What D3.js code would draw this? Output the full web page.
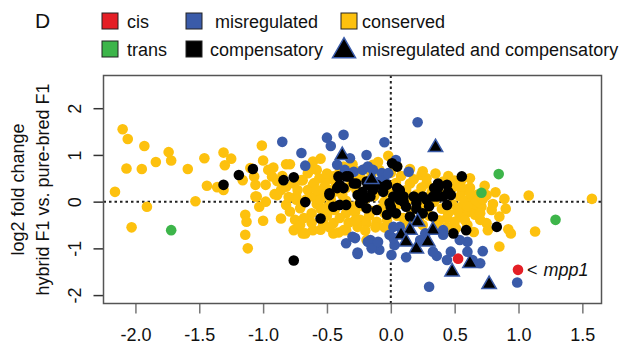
<!DOCTYPE html>
<html>
<head>
<meta charset="utf-8">
<script src="https://cdn.jsdelivr.net/npm/d3@7"></script>
<style>
    body { margin: 0; background: #fff; }
    text { font-family: "Liberation Sans", Arial, sans-serif; }
</style>
</head>
<body>
<script>

let width = 629;
let height = 350;

// log2 fold change: x = hybrid vs parent (cis/trans axis), y = hybrid F1 vs pure-bred F1
let conserved = [
    [-2.10, 1.55], [-2.06, 1.34], [-1.93, 1.19], [-1.74, 1.06], [-1.72, 0.88], [-1.84, 0.85],
    [-2.07, 0.71], [-1.95, 0.70], [-1.59, 0.70], [-1.46, 0.93], [-1.31, 1.05], [-1.25, 0.92],
    [-1.30, 0.78], [-1.01, 1.20], [-1.00, 0.88], [-2.16, 0.21], [-1.44, 0.34], [-1.36, 0.31],
    [-1.31, 0.25], [-1.53, 0.01], [-1.91, -0.11], [-2.03, -0.55],
    [-1.16, 0.46], [-1.10, 0.72], [-1.07, 0.54], [-1.06, 0.36], [-0.96, 0.68], [-0.92, 0.73],
    [-0.93, 0.54], [-0.82, 0.80], [-0.79, 0.80], [-0.98, 0.36], [-0.89, 0.44], [-0.86, 0.25],
    [-0.91, 0.16], [-0.82, 0.32], [-1.05, 0.11], [-0.76, 0.39], [-0.73, 0.25], [-0.74, 0.11],
    [-0.61, 0.86], [-0.58, 0.68], [-0.65, 0.61], [-0.56, 0.50], [-0.61, 0.36], [-0.69, 0.46],
    [-0.50, 0.46], [-0.45, 0.54], [-0.48, 0.25], [-0.53, 0.18], [-0.37, 0.75], [-0.29, 0.68],
    [-0.24, 0.54], [1.575, 0.06], [1.08, 0.13], [0.89, 0.06], [0.735, 0.34], [0.75, 0.14],
    [0.64, 0.07], [0.54, 0.11], [0.49, 0.31], [0.55, -0.11], [0.24, 0.57], [0.15, 0.39],
    [0.28, 0.39], [0.41, 0.43], [-0.63, 0.68], [-0.02, 0.98], [-0.14, 0.79], [-0.09, 0.68],
    [-0.70, 0.46], [-1.14, -0.28], [-1.13, -0.43], [-1.14, -0.71], [-1.12, -1.00], [-1.00, -0.41],
    [-1.06, 0.11], [-1.03, -0.11], [-0.98, 0.00], [-0.89, 0.14], [-0.86, -0.36], [-0.79, -0.21],
    [-0.75, -0.39], [-0.76, -0.61], [-0.69, -0.68], [-0.71, -0.50], [-0.61, -0.61], [-0.71, -0.14],
    [-0.82, -0.07], [-0.74, 0.04], [-0.45, -0.46], [-0.41, -0.66], [-0.35, -0.61], [-0.19, -0.82],
    [-0.44, -0.18], [-0.35, -0.25], [-0.30, -0.11], [-0.24, -0.39], [1.13, -0.64], [0.85, -0.96],
    [0.92, -0.59], [0.94, -0.68], [0.85, -0.32], [0.79, -0.18], [0.71, -0.11], [0.66, -0.03],
    [0.64, -0.18], [0.59, -0.25], [0.54, -0.32], [0.50, -0.43], [0.70, -0.39], [0.75, -0.46],
    [0.76, -0.61], [-0.67, -0.68], [-0.53, -0.46], [-0.45, -0.68], [-0.37, -0.61], [-0.26, -0.54],
    [-0.19, -0.46], [-0.11, -0.43], [0.44, -0.54], [0.51, -0.57],
    [-0.65, 0.25], [-0.60, 0.10], [-0.58, -0.05], [-0.62, -0.25], [-0.55, -0.15], [-0.52, 0.32],
    [-0.50, -0.30], [-0.47, 0.05], [-0.43, 0.40], [-0.40, -0.35], [-0.38, 0.15], [-0.35, 0.02],
    [-0.33, -0.45], [-0.31, 0.48], [-0.28, -0.22], [-0.27, 0.26], [-0.25, 0.62], [-0.22, -0.10],
    [-0.20, 0.05], [-0.18, 0.45], [-0.17, -0.30], [-0.15, 0.60], [-0.13, 0.12], [-0.12, -0.55],
    [-0.10, 0.30], [-0.08, -0.15], [-0.06, 0.52], [-0.05, 0.00], [-0.03, -0.40], [-0.02, 0.20],
    [0.00, 0.62], [0.02, -0.20], [0.04, 0.40], [0.06, -0.05], [0.08, 0.55], [0.10, -0.35],
    [0.12, 0.25], [0.14, 0.05], [0.16, -0.20], [0.18, 0.48], [0.20, 0.15], [0.22, -0.40],
    [0.24, 0.30], [0.26, -0.08], [0.28, 0.50], [0.30, -0.30], [0.32, 0.20], [0.34, 0.00],
    [0.36, -0.45], [0.38, 0.35], [0.40, -0.15], [0.42, 0.15], [0.44, -0.35], [0.46, 0.30],
    [0.48, -0.05], [0.50, 0.45], [0.52, -0.20], [0.56, 0.22], [0.58, 0.02], [0.60, -0.10],
    [0.62, 0.30], [0.66, -0.28], [0.68, 0.15], [0.45, -0.25], [0.35, -0.55], [0.25, -0.50],
    [0.15, -0.45], [0.05, -0.30], [-0.05, -0.25], [-0.15, -0.20], [-0.25, -0.05], [-0.35, 0.30],
    [-0.45, 0.20], [-0.55, 0.05], [-0.60, 0.40], [-0.50, 0.60], [-0.40, 0.65], [-0.30, 0.80],
    [-0.20, 0.70], [-0.10, 0.85], [0.05, 0.75], [0.15, 0.70], [0.25, 0.65], [0.35, 0.60],
    [0.45, 0.55], [0.55, 0.45], [0.62, 0.50], [-0.68, -0.35], [-0.62, -0.45], [-0.55, -0.60],
    [-0.48, -0.55], [-0.20, -0.62], [-0.05, -0.55], [0.60, -0.50], [0.65, -0.65], [0.80, -0.05],
    [0.72, 0.05], [0.82, 0.20], [0.90, -0.15], [-0.85, 0.55], [-0.80, 0.10], [-0.70, -0.05],
    [-0.55, 0.92], [0.58, -0.40], [0.62, 0.18], [0.55, 0.32], [0.70, -0.25], [0.38, -0.40],
    [-0.58, 0.25], [-0.66, 0.05], [-0.50, -0.12], [0.12, -0.52], [-0.28, -0.40]
];

let misregulated = [
    [-0.85, 1.28], [-0.70, 1.04], [-0.67, 0.77], [-0.50, 1.37], [-0.47, 1.19], [-0.37, 1.43],
    [-0.32, 0.93], [-0.19, 1.00], [-0.42, 0.79], [-0.36, 0.68], [-0.29, 0.64], [-0.22, 0.68],
    [-0.18, 0.75], [0.21, 1.70], [-0.05, 1.27], [-0.14, 0.68], [-0.07, 0.61], [-0.05, 0.46],
    [-0.02, 0.61], [-0.09, 0.43], [0.04, 0.89], [0.14, 0.64],
    [-0.35, -0.89], [-0.28, -0.78], [-0.26, -1.12], [-0.18, -0.86], [0.30, -1.82], [0.99, -1.73],
    [0.72, -1.06], [0.70, -1.32], [0.60, -0.86], [0.54, -0.82], [0.47, -1.07], [0.44, -1.25],
    [0.36, -1.16], [0.12, -1.19], [0.005, -1.14], [0.03, -0.93], [-0.09, -1.03], [-0.16, -0.82],
    [-0.26, -1.09], [-0.30, -0.75], [0.07, -0.54], [0.02, -0.54], [-0.01, -0.71], [0.27, -0.68],
    [0.41, -0.61], [0.41, -0.71], [0.33, -1.07], [0.23, -0.82], [0.02, -0.78], [0.60, -1.07],
    [0.64, -1.25], [-0.15, -1.00], [-0.10, -0.86]
];

let compensatory = [
    [-1.31, 0.36], [-1.19, 0.57], [-1.08, 0.70], [-0.84, 0.46], [-0.76, 0.52], [-0.67, -0.01],
    [-0.48, 0.14], [-0.41, 0.54], [-0.40, 0.36], [-0.35, 0.54], [-0.27, 0.39], [-0.42, 0.29],
    [-0.37, 0.29], [-0.26, 0.14], [-0.20, 0.07], [-0.18, 0.36], [0.556, 0.54], [0.01, 0.82],
    [0.05, 0.75], [-0.33, 0.54], [-0.19, 0.43], [-0.11, 0.36], [-0.03, 0.36], [0.05, 0.29],
    [0.07, 0.25], [0.37, 0.39], [0.34, 0.29], [0.45, 0.21], [-0.22, 0.21], [-0.06, 0.21],
    [0.02, 0.11], [0.10, 0.11], [0.18, 0.11], [0.25, 0.11], [0.33, 0.11], [0.41, 0.11],
    [-0.76, -1.26], [-0.55, -0.36], [-0.45, -0.11], [-0.40, -0.07], [-0.19, -0.14], [-0.41, 0.32],
    [0.83, -0.54], [0.59, -0.61], [0.49, -0.68], [-0.48, 0.18], [-0.29, 0.39], [-0.35, -0.07],
    [-0.24, -0.03], [-0.16, 0.11], [-0.11, -0.18], [-0.03, -0.28], [0.04, -0.25], [0.12, -0.11],
    [0.20, -0.03], [0.28, 0.04], [0.36, 0.11], [0.44, -0.07], [0.07, 0.04], [0.15, -0.32],
    [0.25, -0.25], [0.33, -0.32], [-0.01, -0.03], [-0.14, 0.25], [-0.06, 0.32], [0.07, 0.21],
    [0.37, 0.29], [0.47, 0.14], [0.44, 0.36], [0.10, 0.00], [0.20, -0.15], [0.00, -0.12],
    [0.30, -0.10]
];

let misregComp = [
    [-0.38, 0.99], [0.35, 1.16], [-0.15, 0.48], [0.21, -0.43], [0.15, -0.61], [0.33, -0.61],
    [0.08, -0.71], [0.29, -0.86], [0.12, -0.86], [0.20, -1.01], [0.62, -1.32], [0.48, -1.50],
    [0.77, -1.77]
];

let trans = [[-1.72, -0.61], [0.845, 0.59], [0.71, 0.19], [1.29, -0.39]];
let cis = [[0.527, -1.22], [0.996, -1.46]];

let xTicks = [-2.0, -1.5, -1.0, -0.5, 0.0, 0.5, 1.0, 1.5];
let yTicks = [-2, -1, 0, 1, 2];

let colors = {
    cis: "#e41f26",
    trans: "#3db54a",
    misregulated: "#3a5ba9",
    compensatory: "#000000",
    conserved: "#fdc10e"
};

let svg = d3.select("body").append("svg")
    .attr("width", width)
    .attr("height", height);

let x = d3.scaleLinear()
    .domain([-2.25, 1.65])
    .range([103.5, 601.5]);

let y = d3.scaleLinear()
    .domain([-2.18, 2.70])
    .range([303.5, 75.5]);

// axes
let xAxis = svg.append("g")
    .attr("transform", "translate(0," + y.range()[0] + ")")
    .call(d3.axisBottom(x).tickValues(xTicks).tickFormat(d3.format(".1f")).tickSize(10).tickPadding(15));
xAxis.select(".domain").remove();
xAxis.selectAll("line").attr("stroke", "#777").attr("stroke-width", 1.5);
xAxis.selectAll("text")
    .attr("font-size", 18)
    .attr("fill", "#111")
    .text(d => d3.format(".1f")(d).replace("−", "-"));

let yAxis = svg.append("g")
    .attr("transform", "translate(" + x.range()[0] + ",0)")
    .call(d3.axisLeft(y).tickValues(yTicks).tickSize(10));
yAxis.select(".domain").remove();
yAxis.selectAll("line").attr("stroke", "#333").attr("stroke-width", 1.5);
yAxis.selectAll("text").remove();
yAxis.selectAll(".tick").append("text")
    .attr("transform", "translate(-23,0) rotate(-90)")
    .attr("text-anchor", "middle")
    .attr("font-size", 18)
    .attr("fill", "#111")
    .text(d => String(d));

// reference lines at zero
svg.append("line")
    .attr("x1", x(0)).attr("x2", x(0))
    .attr("y1", y.range()[1]).attr("y2", y.range()[0])
    .attr("stroke", "#222").attr("stroke-width", 2)
    .attr("stroke-dasharray", "2.5,3");
svg.append("line")
    .attr("x1", x.range()[0]).attr("x2", x.range()[1])
    .attr("y1", y(0)).attr("y2", y(0))
    .attr("stroke", "#222").attr("stroke-width", 2)
    .attr("stroke-dasharray", "2.5,3");

// points
function dots(data, color) {
    svg.append("g").selectAll("circle")
        .data(data)
        .enter()
        .append("circle")
        .attr("cx", d => x(d[0]))
        .attr("cy", d => y(d[1]))
        .attr("r", 5.3)
        .attr("fill", color);
}
dots(conserved, colors.conserved);
dots(misregulated, colors.misregulated);
dots(compensatory, colors.compensatory);
dots(trans, colors.trans);
dots(cis, colors.cis);

let tri = d3.symbol().type(d3.symbolTriangle).size(90);
svg.append("g").selectAll("path")
    .data(misregComp)
    .enter()
    .append("path")
    .attr("d", tri)
    .attr("transform", d => "translate(" + x(d[0]) + "," + y(d[1]) + ")")
    .attr("fill", "#000")
    .attr("stroke", colors.misregulated)
    .attr("stroke-width", 1.5);

// plot box
svg.append("rect")
    .attr("x", x.range()[0])
    .attr("y", y.range()[1])
    .attr("width", x.range()[1] - x.range()[0])
    .attr("height", y.range()[0] - y.range()[1])
    .attr("fill", "none")
    .attr("stroke", "#555")
    .attr("stroke-width", 1.5);

// mpp1 label
let lab = svg.append("text")
    .attr("x", x(cis[1][0]) + 9)
    .attr("y", y(cis[1][1]) + 6)
    .attr("font-size", 18)
    .attr("fill", "#111");
lab.append("tspan").text("<");
lab.append("tspan").attr("dx", 6).attr("font-style", "italic").text("mpp1");

// y axis title
let ytitle = svg.append("text")
    .attr("transform", "translate(0," + (y.range()[0] + y.range()[1]) / 2 + ") rotate(-90)")
    .attr("text-anchor", "middle")
    .attr("font-size", 18)
    .attr("fill", "#111");
ytitle.append("tspan").attr("x", 0).attr("y", 24).text("log2 fold change");
ytitle.append("tspan").attr("x", 0).attr("y", 49).text("hybrid F1 vs. pure-bred F1");

// panel letter
svg.append("text")
    .attr("x", 35)
    .attr("y", 27.5)
    .attr("font-size", 21)
    .attr("fill", "#111")
    .text("D");

// legend
let legendItems = [
    {label: "cis", color: colors.cis, shape: "square", bx: 102, tx: 127, row: 0},
    {label: "misregulated", color: colors.misregulated, shape: "square", bx: 186, tx: 215, row: 0},
    {label: "conserved", color: colors.conserved, shape: "square", bx: 341, tx: 362, row: 0},
    {label: "trans", color: colors.trans, shape: "square", bx: 102, tx: 127, row: 1},
    {label: "compensatory", color: colors.compensatory, shape: "square", bx: 186, tx: 210, row: 1},
    {label: "misregulated and compensatory", color: "#000", shape: "triangle", bx: 330, tx: 362, row: 1}
];
let rowCenter = [21, 49];
let box = 16;

let lg = svg.append("g").attr("class", "legend");
legendItems.forEach(function (item) {
    let cy = rowCenter[item.row];
    if (item.shape === "square") {
        lg.append("rect")
            .attr("x", item.bx)
            .attr("y", cy - box / 2)
            .attr("width", box)
            .attr("height", box)
            .attr("fill", item.color)
            .attr("stroke", "#222")
            .attr("stroke-width", 1);
    } else {
        lg.append("path")
            .attr("d", d3.symbol().type(d3.symbolTriangle).size(230))
            .attr("transform", "translate(" + (item.bx + 14) + "," + (cy + 2) + ")")
            .attr("fill", "#000")
            .attr("stroke", colors.misregulated)
            .attr("stroke-width", 1.5);
    }
    lg.append("text")
        .attr("x", item.tx)
        .attr("y", cy + 6.5)
        .attr("font-size", 18)
        .attr("fill", "#111")
        .text(item.label);
});

</script>
</body>
</html>
